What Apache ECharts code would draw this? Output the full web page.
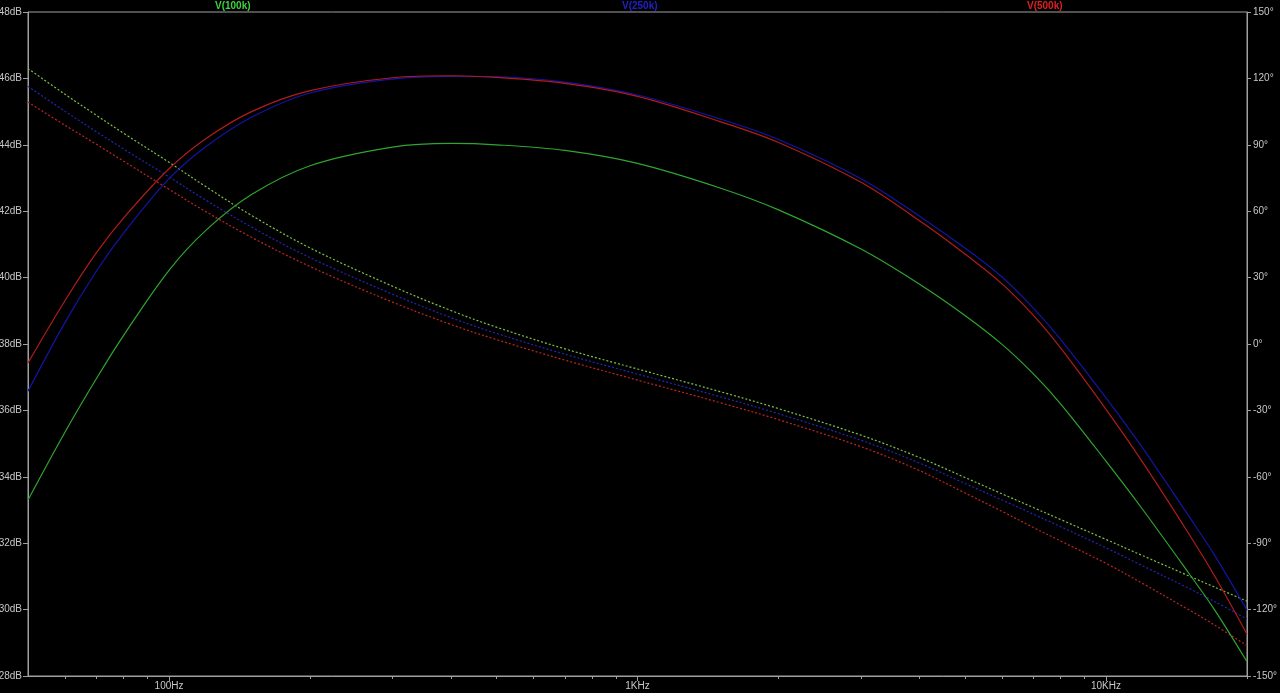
<!DOCTYPE html>
<html><head><meta charset="utf-8">
<script src="https://cdn.jsdelivr.net/npm/echarts@6/dist/echarts.min.js"></script>
<style>html,body{margin:0;padding:0;background:#000;}#c{width:1280px;height:693px;}</style>
</head><body><div id="c"></div><script>
// Frequencies (Hz)
const freqs = [50,60,70,80,100,120,150,200,300,400,500,700,1000,1500,2000,3000,4000,5000,6000,7000,8000,10000,12000,15000,17000,20000];
// Magnitude (dB)
const magV100k = [33.3,35.35,36.96,38.26,40.22,41.43,42.5,43.37,43.93,44.04,44.0,43.83,43.44,42.7,42.04,40.86,39.8,38.86,37.99,37.1,36.2,34.47,33.0,31.11,30.02,28.43];
const magV250k = [36.58,38.65,40.2,41.34,42.98,43.95,44.83,45.56,45.98,46.06,46.05,45.89,45.5,44.78,44.16,42.98,41.85,40.89,40.02,39.08,38.14,36.38,34.85,32.83,31.67,29.98];
const magV500k = [37.43,39.31,40.75,41.8,43.28,44.19,45.0,45.63,46.02,46.08,46.03,45.85,45.46,44.7,44.07,42.87,41.71,40.71,39.81,38.86,37.88,36.03,34.42,32.3,31.05,29.26];
// Phase (degrees)
const phV100k = [124.4,112.8,103.3,95.2,82.1,71.0,58.1,43.4,26.1,15.1,7.6,-2.2,-11.3,-21.5,-29.2,-41.2,-51.3,-60.3,-67.7,-73.9,-79.3,-88.3,-95.7,-104.7,-109.7,-116.2];
const phV250k = [116.4,105.1,95.9,88.1,75.5,64.9,52.8,39.0,22.5,11.9,4.8,-4.6,-13.6,-23.8,-31.5,-43.5,-53.8,-63.0,-70.5,-76.9,-82.5,-92.1,-100.3,-110.3,-116.2,-124.3];
const phV500k = [109.3,98.8,90.2,82.6,69.9,59.7,48.2,35.0,18.9,8.8,2.0,-7.3,-16.3,-26.5,-34.2,-46.4,-57.2,-67.3,-75.6,-82.9,-89.0,-99.1,-108.3,-120.0,-126.8,-136.3];
// Trace names
const traceNames = ['V(100k)','V(250k)','V(500k)'];
// Axis ticks
const majorTicks = [100,1000,10000];
const minorTicks = [60,70,80,90,200,300,400,500,600,700,800,900,2000,3000,4000,5000,6000,7000,8000,9000,20000];

const solidColors = ['#2fa52f','#1414a8','#b01c1c'];
const dotColors = ['#7cc24a','#2226b4','#c02424'];
const titleColors = ['#3ed23e','#2020c8','#e02020'];
const titleLeft = [215,622,1027];
const gray = '#a0a0a0';
const labelColor = '#c8c8c8';
const font = 'Liberation Sans';

function pairs(vals){ return freqs.map((f,i)=>[f, vals[i]]); }
function fmtFreq(v){ return v >= 1000 ? (v/1000)+'KHz' : v+'Hz'; }

const mags = [magV100k, magV250k, magV500k];
const phs = [phV100k, phV250k, phV500k];

const series = [];
for (let i=0;i<3;i++){
  series.push({name: traceNames[i]+' phase', type:'line', xAxisIndex:0, yAxisIndex:1, data: pairs(phs[i]), showSymbol:false, symbol:'none', smooth:0.35,
    lineStyle:{color: dotColors[i], width:1.2, type:[2,2]}, z: 2});
}
for (let i=0;i<3;i++){
  series.push({name: traceNames[i]+' mag', type:'line', xAxisIndex:0, yAxisIndex:0, data: pairs(mags[i]), showSymbol:false, symbol:'none', smooth:0.35,
    lineStyle:{color: solidColors[i], width:1.2}, z: 3+i});
}

const chart = echarts.init(document.getElementById('c'));
chart.setOption({
  backgroundColor:'#000',
  animation:false,
  title: traceNames.map((n,i)=>({text:n, left:titleLeft[i], top:1, padding:0, textStyle:{color:titleColors[i], fontSize:10, fontWeight:'bold', fontFamily:font}})),
  grid:{left:28, right:33, top:12, bottom:17, containLabel:false, outerBoundsMode:'none', show:true, borderColor:gray, borderWidth:1, backgroundColor:'#000'},
  xAxis:[
    {type:'log', logBase:10, min:50, max:20000, position:'bottom',
     axisLine:{show:true, onZero:false, lineStyle:{color:gray}},
     axisTick:{show:true, customValues:majorTicks, length:5, lineStyle:{color:gray}},
     axisLabel:{show:true, customValues:majorTicks, formatter:fmtFreq, color:labelColor, fontSize:10, fontFamily:font, margin:5},
     splitLine:{show:false}, minorTick:{show:false}},
    {type:'log', logBase:10, min:50, max:20000, position:'bottom', gridIndex:0,
     axisLine:{show:false, onZero:false},
     axisTick:{show:true, customValues:minorTicks, length:3, lineStyle:{color:gray}},
     axisLabel:{show:false},
     splitLine:{show:false}}
  ],
  yAxis:[
    {type:'value', min:28, max:48, interval:2, position:'left',
     axisLine:{show:true, onZero:false, lineStyle:{color:gray}},
     axisTick:{show:true, length:5, lineStyle:{color:gray}},
     axisLabel:{formatter:'{value}dB', color:labelColor, fontSize:10, fontFamily:font, margin:6},
     splitLine:{show:false}},
    {type:'value', min:-150, max:150, interval:30, position:'right',
     axisLine:{show:true, onZero:false, lineStyle:{color:gray}},
     axisTick:{show:true, length:4, lineStyle:{color:gray}},
     axisLabel:{formatter:'{value}°', color:labelColor, fontSize:10, fontFamily:font, margin:6},
     splitLine:{show:false}}
  ],
  series: series
});
</script></body></html>
